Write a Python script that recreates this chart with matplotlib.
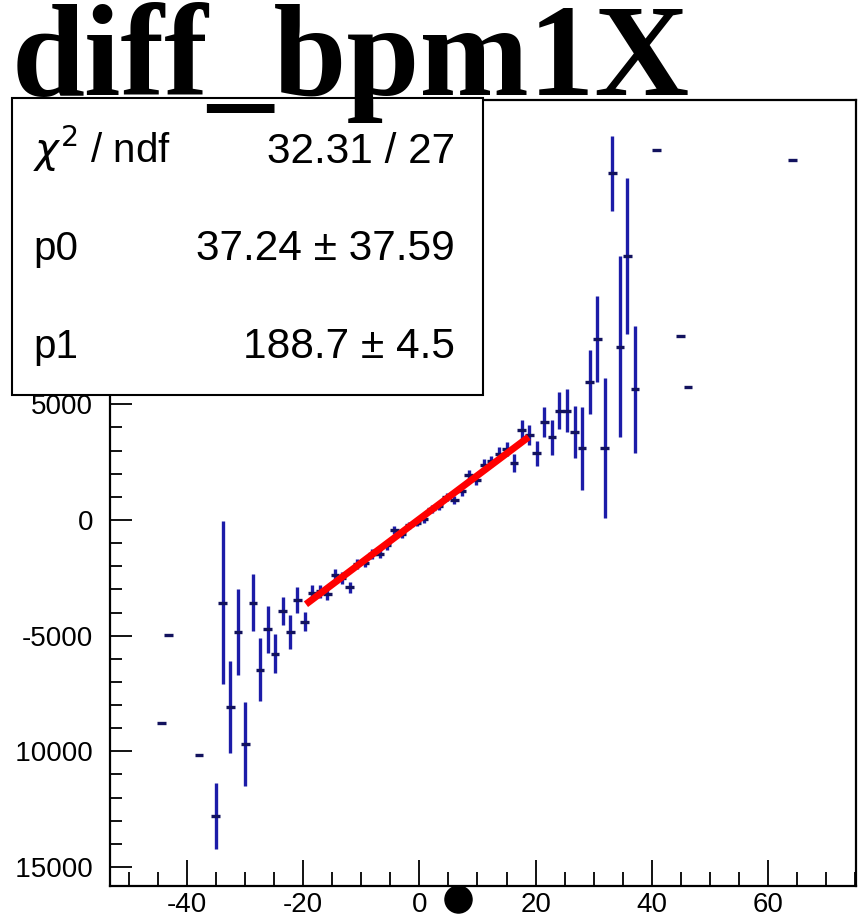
"""Profile of diff_bpm1X with a straight-line fit and its ROOT-style stats box."""

import matplotlib.pyplot as plt
import numpy as np
from matplotlib.lines import Line2D
from matplotlib.patches import Rectangle
from matplotlib.ticker import MultipleLocator
from matplotlib.transforms import Bbox, TransformedBbox

plt.rcParams["font.family"] = ["Liberation Sans", "DejaVu Sans"]
plt.rcParams["axes.unicode_minus"] = False

TITLE = "diff_bpm1X"

# profile bins: centre, mean, error on the mean (0 = single entry)
bin_x = [
    -44.4, -43.1, -37.9,
    -35.0, -33.8, -32.5, -31.2, -29.9, -28.6, -27.4, -26.1, -24.8, -23.5,
    -22.2, -21.0, -19.7,
    -18.4, -17.1, -15.8, -14.5, -13.3, -12.0, -10.7, -9.4, -8.1, -6.8,
    -5.6, -4.3, -3.0, -1.7, -0.4, 0.8, 2.1, 3.4, 4.7, 6.0, 7.3, 8.5, 9.8,
    11.1, 12.4, 13.7, 15.0, 16.3, 17.6, 18.9,
    20.2, 21.5, 22.8, 24.1, 25.4, 26.7, 28.0, 29.3, 30.6, 31.9, 33.2, 34.5,
    35.8, 37.1,
    40.8, 44.9, 46.2, 64.2,
]
bin_y = [
    -8770, -4970, -10150,
    -12790, -3570, -8080, -4840, -9680, -3570, -6470, -4720, -5775, -3930,
    -4840, -3456, -4390,
    -3155, -3090, -3200, -2400, -2520, -2900, -1890, -1840, -1470, -1460,
    -1100, -420, -600, -230, -120, 20, 480, 620, 975, 860, 1240, 1960, 1720,
    2380, 2530, 2870, 3070, 2450, 3890, 3670,
    2880, 4250, 3570, 4720, 4720, 3790, 3100, 5980, 7820, 3100, 14980, 7490,
    11400, 5650,
    16010, 7950, 5760, 15550,
]
bin_err = [
    0, 0, 0,
    1430, 3540, 2000, 1840, 1820, 1250, 1370, 1015, 850, 610,
    740, 555, 430,
    330, 300, 280, 270, 250, 240, 220, 210, 200, 190,
    180, 170, 170, 160, 160, 160, 165, 170, 175, 185, 195, 210, 220,
    240, 250, 270, 290, 390, 430, 430,
    540, 650, 750, 790, 940, 1130, 1800, 1380, 1870, 3020, 1610, 3910,
    3360, 2740,
    0, 0, 0, 0,
]
BIN_HALF_WIDTH = 0.75

# pol1 fit result
fit_p0 = 37.24
fit_p1 = 188.7
fit_range = [-19.5, 18.8]

stat_labels = [r"$\chi^{2}$ / ndf", "p0", "p1"]
stat_values = ["32.31 / 27", "37.24 \u00b1 37.59", "188.7 \u00b1 4.5"]

x_ticks = [-40, -20, 0, 20, 40, 60]
y_ticks = [-15000, -10000, -5000, 0, 5000]

W, H = 865, 918


def fx(px):
    return px / W


def fy(py):
    return 1 - py / H


def main():
    fig = plt.figure(figsize=(W / 100, H / 100), dpi=100)
    ax = fig.add_axes([fx(110), fy(886), fx(856) - fx(110), fy(100) - fy(886)])

    x = np.asarray(bin_x)
    y = np.asarray(bin_y)
    err = np.asarray(bin_err)

    has_err = err > 0
    ax.vlines(x[has_err], (y - err)[has_err], (y + err)[has_err],
              color="#1c1ca8", linewidth=2.4)
    ax.hlines(y, x - BIN_HALF_WIDTH, x + BIN_HALF_WIDTH,
              color="#12125e", linewidth=2.4)

    xf = np.asarray(fit_range)
    ax.plot(xf, fit_p0 + fit_p1 * xf, color="#ff0000", linewidth=5,
            solid_capstyle="butt", zorder=3)

    ax.set_xlim(-53.2, 75.1)
    ax.set_ylim(-15820, 18150)
    ax.set_xticks(x_ticks)
    ax.set_yticks(y_ticks)
    ax.xaxis.set_minor_locator(MultipleLocator(5))
    ax.yaxis.set_minor_locator(MultipleLocator(1000))
    ax.tick_params(axis="x", which="major", direction="in", length=18.5,
                   width=1.3, labelsize=20, pad=4)
    ax.tick_params(axis="x", which="minor", direction="in", length=10,
                   width=1.3)
    ax.tick_params(axis="y", which="major", direction="in", length=16,
                   width=1.3, labelsize=20, pad=12)
    ax.tick_params(axis="y", which="minor", direction="in", length=8.6,
                   width=1.3)
    for spine in ax.spines.values():
        spine.set_linewidth(1.6)

    # the canvas edge cuts the minus signs off the long y labels
    clip = TransformedBbox(Bbox([[fx(15), 0], [1, 1]]), fig.transFigure)
    for lab in ax.get_yticklabels():
        lab.set_clip_box(clip)
        lab.set_clip_on(True)

    # stats box
    fig.add_artist(Rectangle((fx(12), fy(395)), fx(483) - fx(12),
                             fy(98) - fy(395), transform=fig.transFigure,
                             facecolor="white", edgecolor="black",
                             linewidth=1.5, zorder=1))
    for i, (lab, val) in enumerate(zip(stat_labels, stat_values)):
        base = fy(163 + i * 97.5)
        fig.text(fx(33), base, lab, fontsize=29, va="baseline", zorder=4)
        fig.text(fx(455), base, val, fontsize=30.5, ha="right",
                 va="baseline", zorder=4)

    fig.text(fx(12), fy(95), TITLE, family="Liberation Serif",
             weight="bold", fontsize=94.5, va="baseline", zorder=5)

    fig.add_artist(Line2D([fx(458)], [fy(899)], marker="o", markersize=19.5,
                          color="black", transform=fig.transFigure))

    fig.savefig("out.png", dpi=100, facecolor="white")


if __name__ == "__main__":
    main()
